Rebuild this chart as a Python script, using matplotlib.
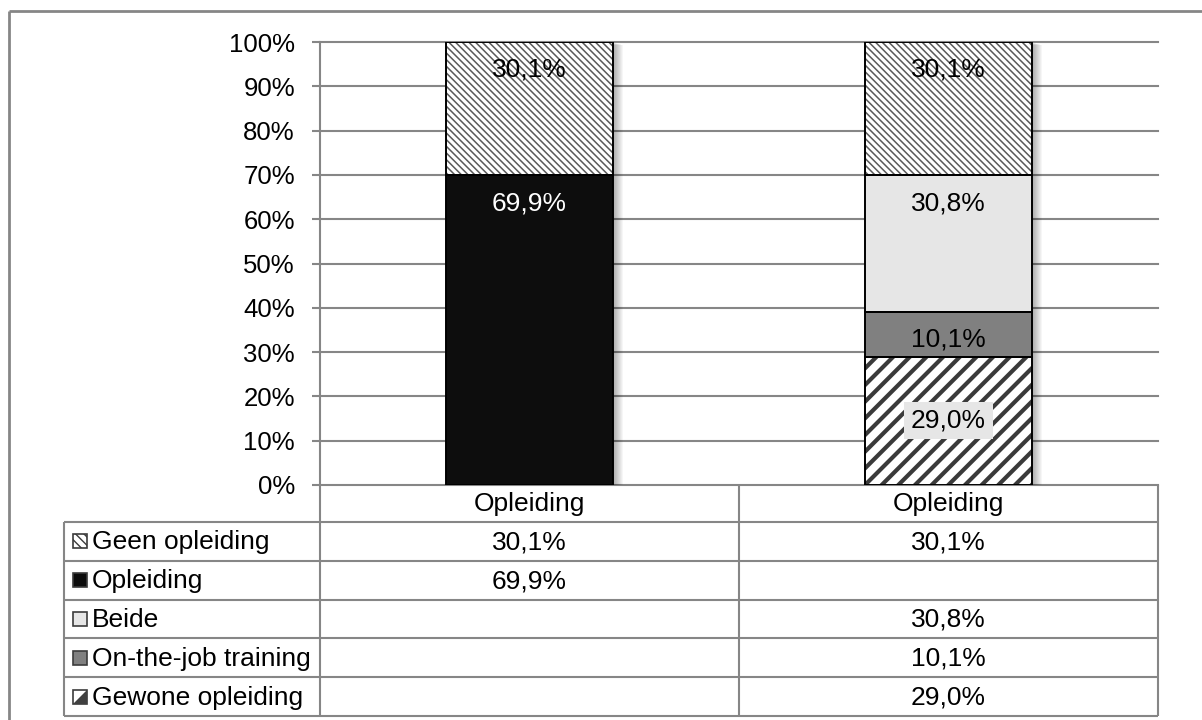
import matplotlib
matplotlib.use("Agg")
import matplotlib.pyplot as plt
from matplotlib.patches import Rectangle, Polygon
from matplotlib.lines import Line2D
from matplotlib import transforms

plt.rcParams['font.family'] = ['Liberation Sans', 'DejaVu Sans']

# data (percentages per group, None = not present in that group)
categories = ["Opleiding", "Opleiding"]
series = ["Geen opleiding", "Opleiding", "Beide", "On-the-job training", "Gewone opleiding"]
geen_opleiding = [30.1, 30.1]
opleiding = [69.9, None]
beide = [None, 30.8]
on_the_job = [None, 10.1]
gewone_opleiding = [None, 29.0]
values = [geen_opleiding, opleiding, beide, on_the_job, gewone_opleiding]
yticks = list(range(0, 101, 10))

# look of each series
styles = {
    "Geen opleiding": dict(face="white", hatch="\\" * 5, hcol="#5a5a5a", hlw=1.1, txt="black", where="top", box=None),
    "Opleiding": dict(face="#0d0d0d", hatch=None, hcol="#0d0d0d", hlw=1.0, txt="white", where="top", box=None),
    "Beide": dict(face="#e6e6e6", hatch=None, hcol="#e6e6e6", hlw=1.0, txt="black", where="top", box=None),
    "On-the-job training": dict(face="#808080", hatch=None, hcol="#808080", hlw=1.0, txt="black", where="top", box=None),
    "Gewone opleiding": dict(face="white", hatch="//", hcol="#3a3a3a", hlw=3.0, txt="black", where="mid", box="#e6e6e6"),
}

W, H = 1202, 720
GRID = "#868686"
FS = 19

fig = plt.figure(figsize=(W / 100, H / 100), dpi=100)


def fx(x):
    return x / W


def fy(y):
    return 1 - y / H


def fline(x0, y0, x1, y1, lw=1.5):
    fig.add_artist(Line2D([fx(x0), fx(x1)], [fy(y0), fy(y1)], transform=fig.transFigure,
                          color=GRID, lw=lw, solid_capstyle="butt"))


ax = fig.add_axes([fx(320), fy(485), (1158 - 320) / W, (485 - 42) / H])
ax.set_xlim(-0.5, 1.5)
ax.set_ylim(0, 100)
ax.set_yticks(yticks)
ax.set_yticklabels([f"{t}%" for t in yticks], fontsize=18.5)
ax.set_xticks([])
for t in yticks:
    ax.axhline(t, color=GRID, lw=1.5, zorder=0.5, clip_on=False)
for s in ["top", "right", "bottom"]:
    ax.spines[s].set_visible(False)
ax.spines["left"].set_color(GRID)
ax.spines["left"].set_linewidth(1.5)
ax.tick_params(axis="y", length=6, width=1.5, color=GRID, pad=12)

width = 0.4
n = len(categories)

# soft drop shadow behind each full stack
for i in range(n):
    total = sum(v[i] for v in values if v[i] is not None)
    for k in range(1, 11):
        tr = transforms.offset_copy(ax.transData, fig=fig, x=k, y=-k * 0.3, units="dots")
        ax.add_patch(Rectangle((i - width / 2, 0), width, total, transform=tr,
                               facecolor="black", alpha=0.035, lw=0, zorder=1))

# stacked bars, bottom series first
bottoms = [0.0] * n
for name, vals in zip(series[::-1], values[::-1]):
    st = styles[name]
    for i, v in enumerate(vals):
        if v is None:
            continue
        with plt.rc_context({"hatch.linewidth": st["hlw"]}):
            bars = ax.bar(i, v, width, bottom=bottoms[i], color=st["face"], hatch=st["hatch"],
                          edgecolor=st["hcol"], linewidth=0, zorder=2)
        for b in bars:
            if hasattr(b, "set_hatch_linewidth"):
                b.set_hatch_linewidth(st["hlw"])
        ax.bar(i, v, width, bottom=bottoms[i], fill=False, edgecolor="black", lw=1.4, zorder=3)
        if st["where"] == "top":
            ty = bottoms[i] + v - 6.3
        else:
            ty = bottoms[i] + v / 2
        bbox = None
        if st["box"]:
            bbox = dict(boxstyle="square,pad=0.25", fc=st["box"], ec="none")
        ax.text(i, ty, f"{v:.1f}%".replace(".", ","), ha="center", va="center",
                fontsize=FS, color=st["txt"], bbox=bbox, zorder=4)
        bottoms[i] += v

# data table under the plot
col_edges = [64, 320, 739, 1158]
row_top = 522
row_h = (716 - 522) / len(series)

fline(9, 11, W, 11, lw=2)
fline(9, 11, 9, H, lw=2)
fline(320, 485, 320, 716)
fline(739, 485, 739, 716)
fline(1158, 485, 1158, 716)
fline(64, row_top, 64, 716)
for r in range(len(series) + 1):
    y = row_top + r * row_h
    fline(64, y, 1158, y)

for j, cat in enumerate(categories):
    cx = (col_edges[j + 1] + col_edges[j + 2]) / 2
    fig.text(fx(cx), fy(504), cat, ha="center", va="center", fontsize=FS)

for r, (name, vals) in enumerate(zip(series, values)):
    st = styles[name]
    cy = row_top + (r + 0.5) * row_h
    # legend key
    kx, ks = 73, 14
    key = Rectangle((fx(kx), fy(cy + ks / 2)), ks / W, ks / H, transform=fig.transFigure,
                    facecolor=st["face"] if name != "Gewone opleiding" else "white",
                    hatch="\\\\\\\\" if name == "Geen opleiding" else None,
                    edgecolor="#3c3c3c", lw=1.2)
    fig.add_artist(key)
    if name == "Gewone opleiding":
        fig.add_artist(Polygon([(fx(kx), fy(cy + ks / 2)), (fx(kx + ks), fy(cy + ks / 2)),
                                (fx(kx + ks), fy(cy - ks / 2))], closed=True,
                               transform=fig.transFigure, facecolor="#404040", lw=0))
    fig.text(fx(92), fy(cy + 1), name, ha="left", va="center", fontsize=FS)
    for j, v in enumerate(vals):
        if v is None:
            continue
        cx = (col_edges[j + 1] + col_edges[j + 2]) / 2
        fig.text(fx(cx), fy(cy + 1), f"{v:.1f}%".replace(".", ","), ha="center", va="center", fontsize=FS)

fig.savefig("out.png", dpi=100)
